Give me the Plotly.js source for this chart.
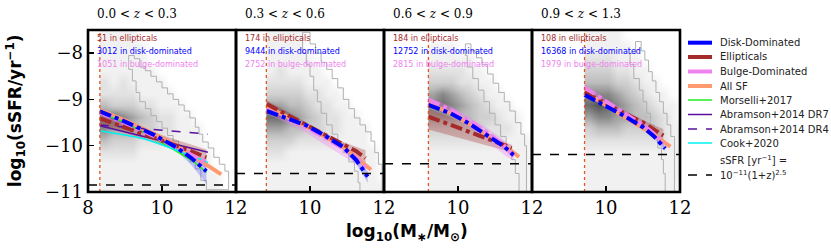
<!DOCTYPE html>
<html><head><meta charset="utf-8">
<script src="https://cdn.plot.ly/plotly-3.0.1.min.js"></script>
<style>body{margin:0;background:#fff}</style></head>
<body><div id="chart" style="width:831px;height:252px"></div>
<script>
// ---------------- data ----------------
const zBins = ['0.0 &lt; <i>z</i> &lt; 0.3','0.3 &lt; <i>z</i> &lt; 0.6','0.6 &lt; <i>z</i> &lt; 0.9','0.9 &lt; <i>z</i> &lt; 1.3'];
const massLimit = [8.32, 8.82, 9.2, 9.42];
const sSFRcut = [-10.85, -10.6, -10.39, -10.19];
const nEll = [51, 174, 184, 108];
const nDisk = [3012, 9444, 12752, 16368];
const nBulge = [1051, 2752, 2815, 1979];

// 2D histogram (grey background), rows from top (-7.625) to bottom (-10.875), 0.25 dex bins starting at mass limit
const histRowsY = [-7.625,-7.875,-8.125,-8.375,-8.625,-8.875,-9.125,-9.375,-9.625,-9.875,-10.125,-10.375,-10.625,-10.875];
const hist1 = [
 [1,1,1,1,0,0,0,0,0,0,0,0,0,0,0],
 [1,1,1,1,1,0,0,0,0,0,0,0,0,0,0],
 [1,1,1,1,1,0,0,0,0,0,0,0,0,0,0],
 [1,1,1,1,1,1,0,0,0,0,0,0,0,0,0],
 [2,1,2,1,1,1,1,0,0,0,0,0,0,0,0],
 [2,2,2,2,1,1,1,1,0,0,0,0,0,0,0],
 [4,3,3,3,2,2,1,1,1,0,0,0,0,0,0],
 [6,7,6,5,4,3,2,2,1,1,0,0,0,0,0],
 [6,5,5,4,3,3,2,2,1,1,1,0,0,0,0],
 [4,3,3,3,2,2,2,1,1,1,1,0,0,0,0],
 [2,2,2,2,1,1,1,1,1,1,1,1,0,0,0],
 [1,1,1,1,1,1,1,1,1,1,1,1,0,0,0],
 [1,1,1,1,1,1,1,1,1,1,1,1,1,0,0],
 [1,1,1,1,1,1,1,1,1,1,1,1,1,0,0]];
const hist2 = [
 [1,1,1,1,0,0,0,0,0,0,0,0,0],
 [1,1,1,1,0,0,0,0,0,0,0,0,0],
 [1,1,1,1,1,0,0,0,0,0,0,0,0],
 [1,2,1,1,1,1,0,0,0,0,0,0,0],
 [2,2,2,2,1,1,1,0,0,0,0,0,0],
 [3,3,3,3,2,2,1,1,0,0,0,0,0],
 [5,5,4,4,3,2,2,1,1,0,0,0,0],
 [7,7,6,5,4,3,2,2,1,1,0,0,0],
 [5,5,4,4,3,3,2,2,1,1,1,0,0],
 [3,3,3,2,2,2,2,1,1,1,1,0,0],
 [2,2,1,1,1,1,1,1,1,1,1,1,0],
 [1,1,1,1,1,1,1,1,1,1,1,1,0],
 [1,1,1,1,1,1,1,1,1,1,1,1,0],
 [1,1,1,1,1,1,1,1,1,1,1,1,1]];
const hist3 = [
 [0,0,0,0,0,0,0,0,0,0,0,0],
 [1,1,1,0,0,0,0,0,0,0,0,0],
 [1,1,1,1,1,0,0,0,0,0,0,0],
 [2,2,2,2,1,1,0,0,0,0,0,0],
 [3,3,3,2,2,1,1,0,0,0,0,0],
 [5,6,5,4,3,2,1,1,0,0,0,0],
 [6,7,6,5,4,3,2,1,1,0,0,0],
 [5,5,5,4,4,3,3,2,1,1,0,0],
 [3,3,3,3,3,3,2,2,2,1,0,0],
 [2,2,2,2,2,2,2,2,1,1,1,0],
 [1,1,1,1,1,1,1,1,1,1,1,0],
 [1,1,1,1,1,1,1,1,1,1,1,0],
 [1,1,1,1,1,1,1,1,1,1,1,0],
 [1,1,1,1,1,1,1,1,1,1,1,0]];
const hist4 = [
 [1,1,1,1,0,0,0,0,0,0,0],
 [1,1,1,1,1,0,0,0,0,0,0],
 [2,2,2,1,1,1,0,0,0,0,0],
 [3,3,3,2,2,1,1,0,0,0,0],
 [4,4,4,3,3,2,1,1,0,0,0],
 [6,6,6,5,4,3,2,1,1,0,0],
 [7,8,7,6,5,4,3,2,1,1,0],
 [5,6,6,5,5,4,4,3,2,1,0],
 [3,4,4,4,3,3,3,3,2,1,1],
 [2,2,2,2,2,2,2,2,2,1,1],
 [1,1,1,1,1,1,1,1,1,1,1],
 [1,1,1,1,1,1,1,1,1,1,1],
 [1,1,1,1,1,1,1,1,1,1,1],
 [1,1,1,1,1,1,1,1,1,1,0]];
const hists = [hist1, hist2, hist3, hist4];

// grey step outline (quenched contour): upper edge going down, then lower edge coming back
const outlineM = [
 [9.10,9.25,9.40,9.55,9.70,9.85,10.00,10.15,10.30,10.45,10.60,10.75,10.90,11.00,11.10,11.25,11.40,11.55,11.70,11.80,11.80,
  11.30,11.20,11.05,10.90,10.75,10.60,10.45,10.30,10.15,10.00,9.85,9.70,9.55,9.40,9.30,9.20,9.10],
 [9.80,10.00,10.15,10.30,10.45,10.60,10.75,10.90,11.05,11.20,11.35,11.50,11.65,11.75,11.85,11.95,11.95,
  11.40,11.35,11.30,11.20,11.05,10.90,10.75,10.60,10.45,10.30,10.20,10.10,10.00,9.90,9.80],
 [10.20,10.35,10.50,10.65,10.80,10.95,11.10,11.25,11.40,11.55,11.70,11.80,11.85,11.85,
  11.65,11.65,11.55,11.45,11.30,11.15,11.00,10.85,10.70,10.55,10.40,10.25,10.20],
 [10.80,10.95,11.05,11.15,11.25,11.35,11.45,11.55,11.65,11.75,11.85,11.85,11.85,
  11.60,11.60,11.55,11.50,11.40,11.30,11.20,11.10,11.00,10.90,10.75,10.65,10.80]];
const outlineS = [
 [-8.05,-8.12,-8.30,-8.38,-8.50,-8.62,-8.75,-8.88,-9.00,-9.12,-9.25,-9.40,-9.60,-9.75,-9.92,-10.05,-10.25,-10.40,-10.55,-10.75,-10.95,
  -10.95,-10.75,-10.50,-10.35,-10.20,-10.05,-9.90,-9.78,-9.62,-9.48,-9.35,-9.20,-9.05,-8.85,-8.60,-8.35,-8.05],
 [-7.55,-7.80,-8.00,-8.20,-8.35,-8.55,-8.75,-9.00,-9.20,-9.40,-9.55,-9.70,-9.90,-10.15,-10.40,-10.70,-11.00,
  -11.00,-10.80,-10.55,-10.35,-10.15,-9.95,-9.75,-9.55,-9.30,-9.05,-8.80,-8.50,-8.25,-8.00,-7.55],
 [-7.80,-7.95,-8.10,-8.25,-8.45,-8.65,-8.85,-9.05,-9.25,-9.50,-9.75,-10.00,-10.40,-11.00,
  -11.00,-10.60,-10.30,-10.05,-9.80,-9.55,-9.30,-9.05,-8.80,-8.55,-8.30,-8.05,-7.80],
 [-7.75,-7.95,-8.15,-8.40,-8.60,-8.85,-9.05,-9.30,-9.55,-9.80,-10.10,-10.50,-11.00,
  -11.00,-10.60,-10.30,-10.05,-9.80,-9.55,-9.30,-9.05,-8.80,-8.55,-8.25,-8.00,-7.75]];

// Disk-dominated
const diskM = [[8.32,9.0,9.8,10.4,10.8,11.2],[8.83,9.35,9.9,10.4,10.9,11.25,11.56],[9.2,9.8,10.3,10.8,11.25,11.5],[9.42,10.0,10.5,11.0,11.3,11.6]];
const diskMed = [[-9.26,-9.48,-9.77,-10.04,-10.27,-10.55],[-9.25,-9.39,-9.56,-9.78,-10.03,-10.31,-10.67],[-9.12,-9.30,-9.52,-9.77,-10.02,-10.20],[-8.90,-9.14,-9.36,-9.60,-9.80,-10.06]];
const diskLo = [[-9.33,-9.53,-9.83,-10.12,-10.42,-10.82],[-9.28,-9.42,-9.60,-9.82,-10.08,-10.40,-10.80],[-9.16,-9.34,-9.56,-9.81,-10.07,-10.26],[-8.94,-9.18,-9.40,-9.64,-9.85,-10.12]];
const diskHi = [[-9.19,-9.43,-9.72,-9.98,-10.15,-10.35],[-9.22,-9.36,-9.52,-9.74,-9.98,-10.22,-10.55],[-9.08,-9.26,-9.48,-9.73,-9.97,-10.14],[-8.86,-9.10,-9.32,-9.56,-9.75,-10.00]];
// Ellipticals
const ellM = [[8.32,9.0,9.8,10.4,10.8,11.2],[8.83,9.35,9.9,10.4,10.9,11.25,11.5],[9.2,9.8,10.3,10.8,11.25,11.45],[9.42,10.0,10.5,11.0,11.3,11.55]];
const ellMed = [[-9.41,-9.60,-9.83,-10.00,-10.12,-10.25],[-9.10,-9.32,-9.55,-9.77,-9.98,-10.12,-10.27],[-9.37,-9.54,-9.70,-9.85,-10.00,-10.05],[-8.85,-9.10,-9.30,-9.50,-9.65,-9.78]];
const ellLo = [[-9.55,-9.72,-9.93,-10.12,-10.28,-10.45],[-9.18,-9.38,-9.60,-9.82,-10.05,-10.25,-10.45],[-9.65,-9.78,-9.90,-10.00,-10.10,-10.17],[-8.90,-9.15,-9.36,-9.58,-9.78,-9.92]];
const ellHi = [[-9.27,-9.48,-9.72,-9.88,-9.98,-10.08],[-9.02,-9.26,-9.50,-9.72,-9.92,-10.02,-10.10],[-9.20,-9.38,-9.55,-9.72,-9.92,-9.98],[-8.80,-9.05,-9.25,-9.44,-9.56,-9.64]];
// Bulge-dominated
const bulgeM = [[8.32,9.0,9.8,10.4,10.8,11.2],[8.83,9.35,9.9,10.4,10.9,11.25,11.5],[9.2,9.8,10.3,10.8,11.25,11.5],[9.42,10.0,10.5,11.0,11.3,11.56]];
const bulgeMed = [[-9.28,-9.50,-9.80,-10.03,-10.20,-10.38],[-9.22,-9.40,-9.60,-9.82,-10.06,-10.27,-10.47],[-9.01,-9.22,-9.45,-9.72,-10.00,-10.22],[-8.74,-9.05,-9.30,-9.55,-9.74,-9.95]];
const bulgeLo = [[-9.36,-9.58,-9.88,-10.12,-10.30,-10.50],[-9.30,-9.50,-9.72,-9.98,-10.22,-10.40,-10.56],[-9.08,-9.32,-9.60,-9.90,-10.20,-10.32],[-8.80,-9.11,-9.36,-9.61,-9.80,-10.02]];
const bulgeHi = [[-9.20,-9.42,-9.72,-9.94,-10.10,-10.26],[-9.16,-9.34,-9.54,-9.75,-9.98,-10.18,-10.40],[-8.95,-9.15,-9.38,-9.62,-9.88,-10.10],[-8.68,-8.99,-9.24,-9.49,-9.68,-9.88]];
// All star-forming
const allM = [[8.32,9.0,9.8,10.4,10.8,11.2,11.6],[8.83,9.35,9.9,10.4,10.9,11.25,11.65],[9.2,9.8,10.3,10.8,11.25,11.65],[9.42,10.0,10.5,11.0,11.3,11.74]];
const allMed = [[-9.23,-9.45,-9.75,-10.00,-10.20,-10.42,-10.62],[-9.16,-9.36,-9.58,-9.80,-10.03,-10.25,-10.52],[-9.08,-9.30,-9.52,-9.76,-10.00,-10.24],[-8.83,-9.13,-9.38,-9.62,-9.77,-10.02]];
// literature relations (first panel)
const morselliM = [8.32,9.0,9.62,10.2,10.84,11.2];
const morselliS = [-9.30,-9.50,-9.77,-10.03,-10.34,-10.58];
const abrDR7M = [8.32,11.24];
const abrDR7S = [-9.57,-10.14];
const abrDR4M = [8.32,11.24];
const abrDR4S = [-9.55,-9.75];
const cookM = [8.32,9.5,10.3,10.9,11.24];
const cookS = [-9.68,-9.85,-10.07,-10.25,-10.36];

// ---------------- styles ----------------
const C = {disk:'#0000ff', ell:'#a52a2a', bulge:'#ee82ee', all:'#ff9a70', mors:'#22ee22', abr:'#5a0fa0', cook:'#00f0f0', lim:'#e2571e', outline:'#b0b0b0'};

const traces = [];
const shapes = [];
const annotations = [];
const axName = i => i === 0 ? '' : String(i + 1);

for (let p = 0; p < 4; p++) {
  const xa = 'x' + axName(p);
  const z = hists[p].slice().reverse();
  traces.push({type:'heatmap', xaxis:xa, yaxis:'y', z:z,
    x0: massLimit[p] + 0.125, dx: 0.25, y: histRowsY.slice().reverse(),
    zmin:0, zmax:10, zsmooth:'best', showscale:false, hoverinfo:'skip',
    colorscale:[[0,'#ffffff'],[0.1,'#f1f1f1'],[0.2,'#e2e2e2'],[0.4,'#bdbdbd'],[0.7,'#6e6e6e'],[1,'#222222']]});
  traces.push({type:'scatter', mode:'lines', xaxis:xa, yaxis:'y', x:outlineM[p], y:outlineS[p],
    line:{color:C.outline, width:1, shape:'hv'}, showlegend:false, hoverinfo:'skip'});
  const band = (m, lo, hi, col) => traces.push({type:'scatter', mode:'lines', xaxis:xa, yaxis:'y',
    x: m.concat(m.slice().reverse()), y: lo.concat(hi.slice().reverse()),
    fill:'toself', fillcolor:col, line:{width:0}, showlegend:false, hoverinfo:'skip'});
  band(ellM[p], ellLo[p], ellHi[p], 'rgba(165,42,42,0.30)');
  band(bulgeM[p], bulgeLo[p], bulgeHi[p], 'rgba(238,130,238,0.35)');
  band(diskM[p], diskLo[p], diskHi[p], 'rgba(60,60,255,0.28)');
  traces.push({type:'scatter', mode:'lines', xaxis:xa, yaxis:'y', x:allM[p], y:allMed[p],
    line:{color:C.all, width:4}, showlegend:false});
  if (p === 0) {
    traces.push({type:'scatter', mode:'lines', xaxis:xa, yaxis:'y', x:morselliM, y:morselliS, line:{color:C.mors, width:1.5, shape:'spline'}, showlegend:false});
    traces.push({type:'scatter', mode:'lines', xaxis:xa, yaxis:'y', x:abrDR7M, y:abrDR7S, line:{color:C.abr, width:1.5}, showlegend:false});
    traces.push({type:'scatter', mode:'lines', xaxis:xa, yaxis:'y', x:abrDR4M, y:abrDR4S, line:{color:C.abr, width:1.5, dash:'dash'}, showlegend:false});
    traces.push({type:'scatter', mode:'lines', xaxis:xa, yaxis:'y', x:cookM, y:cookS, line:{color:C.cook, width:1.5, shape:'spline'}, showlegend:false});
  }
  traces.push({type:'scatter', mode:'lines', xaxis:xa, yaxis:'y', x:ellM[p], y:ellMed[p], line:{color:C.ell, width:4, dash:'dashdot'}, showlegend:false});
  traces.push({type:'scatter', mode:'lines', xaxis:xa, yaxis:'y', x:bulgeM[p], y:bulgeMed[p], line:{color:C.bulge, width:4, dash:'dashdot'}, showlegend:false});
  traces.push({type:'scatter', mode:'lines', xaxis:xa, yaxis:'y', x:diskM[p], y:diskMed[p], line:{color:C.disk, width:4, dash:'dashdot'}, showlegend:false});

  shapes.push({type:'line', xref:xa, yref:'y domain', x0:massLimit[p], x1:massLimit[p], y0:0, y1:1, line:{color:C.lim, width:1.3, dash:'dot'}});
  shapes.push({type:'line', xref:xa + ' domain', yref:'y', x0:0, x1:1, y0:sSFRcut[p], y1:sSFRcut[p], line:{color:'#000', width:1.5, dash:'dash'}});
  shapes.push({type:'rect', xref:xa + ' domain', yref:'y domain', x0:0, x1:1, y0:0, y1:1, line:{color:'#000', width:2.6}});

  annotations.push({xref:xa + ' domain', yref:'paper', x:0.05, y:1.045, xanchor:'left', yanchor:'bottom', showarrow:false,
    text:zBins[p], font:{family:'DejaVu Serif', size:12, color:'#000'}});
  const cnt = [[nEll[p] + ' in ellipticals', C.ell, 0.95], [nDisk[p] + ' in disk-dominated', C.disk, 0.865], [nBulge[p] + ' in bulge-dominated', C.bulge, 0.785]];
  cnt.forEach(c => annotations.push({xref:xa + ' domain', yref:'y domain', x:0.05, y:c[2], xanchor:'left', yanchor:'middle', showarrow:false,
    text:c[0], font:{family:'DejaVu Sans', size:8, color:c[1]}}));
}

annotations.push({xref:'paper', yref:'paper', x:-0.123, y:0.5, xanchor:'center', yanchor:'middle', textangle:-90, showarrow:false,
  text:'<b>log<sub>10</sub>(sSFR/yr<sup>−1</sup>)</b>', font:{family:'DejaVu Sans', size:17, color:'#000'}});
annotations.push({xref:'paper', yref:'paper', x:0.539, y:-0.25, xanchor:'center', yanchor:'middle', showarrow:false,
  text:'<b>log<sub>10</sub>(M<sub>∗</sub>/M<sub>⊙</sub>)</b>', font:{family:'DejaVu Sans', size:17, color:'#000'}});

const legItems = [
  ['Disk-Dominated', C.disk, 4, 'solid', 42.7],
  ['Ellipticals', C.ell, 4, 'solid', 57],
  ['Bulge-Dominated', C.bulge, 4, 'solid', 71.5],
  ['All SF', C.all, 4, 'solid', 86],
  ['Morselli+2017', C.mors, 1.5, 'solid', 100],
  ['Abramson+2014 DR7', C.abr, 1.5, 'solid', 114.5],
  ['Abramson+2014 DR4', C.abr, 1.5, 'dash', 129],
  ['Cook+2020', C.cook, 1.5, 'solid', 143],
  ['10<sup>−11</sup>(1+z)<sup>2.5</sup>', '#000', 1.5, 'dash', 175]];
const py = y => (192 - y) / 162, px = x => (x - 88) / 592;
legItems.forEach(it => {
  shapes.push({type:'line', xref:'paper', yref:'paper', x0:px(688), x1:px(712), y0:py(it[4]), y1:py(it[4]), line:{color:it[1], width:it[2], dash:it[3]}});
  annotations.push({xref:'paper', yref:'paper', x:px(718), y:py(it[4]), xanchor:'left', yanchor:'middle', showarrow:false, text:it[0], font:{family:'DejaVu Sans', size:10, color:'#222'}});
});
annotations.push({xref:'paper', yref:'paper', x:px(718), y:py(160), xanchor:'left', yanchor:'middle', showarrow:false, text:'sSFR [yr<sup>−1</sup>] =', font:{family:'DejaVu Sans', size:10, color:'#222'}});

const layout = {
  width:831, height:252, margin:{l:88, r:151, t:30, b:60},
  paper_bgcolor:'#fff', plot_bgcolor:'#fff', showlegend:false,
  font:{family:'DejaVu Serif', color:'#000'},
  yaxis:{range:[-11,-7.5], tickvals:[-8,-9,-10,-11], ticks:'inside', ticklen:6, tickwidth:1.5, tickcolor:'#000',
    showgrid:false, zeroline:false, showline:false, tickfont:{family:'DejaVu Serif', size:18, color:'#000'}, ticklabelstandoff:4, anchor:'x'},
  shapes:shapes, annotations:annotations
};
for (let p = 0; p < 4; p++) {
  layout['xaxis' + axName(p)] = {domain:[p * 0.25, (p + 1) * 0.25], range:[8,12], anchor:'y',
    tickvals: p === 0 ? [8,10,12] : [10,12], ticks:'inside', ticklen:6, tickwidth:1.5, tickcolor:'#000',
    showgrid:false, zeroline:false, showline:false, tickfont:{family:'DejaVu Serif', size:18, color:'#000'}, ticklabelstandoff:3};
}
Plotly.newPlot('chart', traces, layout, {staticPlot:true});
</script></body></html>
